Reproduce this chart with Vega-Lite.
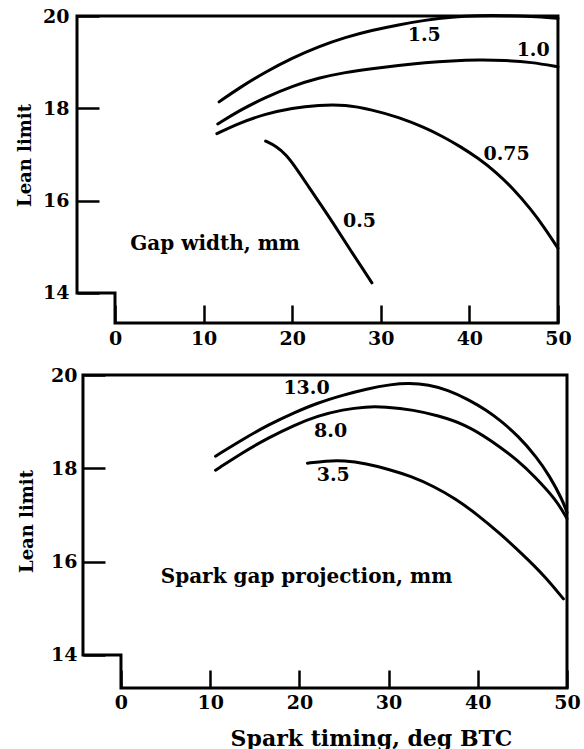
{
  "$schema": "https://vega.github.io/schema/vega-lite/v6.json",
  "background": "white",
  "padding": {"left": 16, "top": 7, "right": 5, "bottom": 0},
  "config": {"view": {"stroke": null}, "font": "DejaVu Serif"},
  "spacing": 52,
  "bounds": "flush",
  "vconcat": [
    {
      "width": 490,
      "height": 307,
      "encoding": {
        "x": {"field": "x", "type": "quantitative", "scale": {"domain": [-4.29, 51.02], "nice": false, "zero": false},
          "axis": {"values": [0, 10, 20, 30, 40, 50], "domain": false, "grid": false, "tickSize": -18, "tickWidth": 2.5, "tickColor": "black", "labelPadding": 24, "labelFlush": false, "labelOverlap": false, "labelFontSize": 19, "labelFont": "DejaVu Serif", "labelFontWeight": "bold", "labelColor": "black", "title": null}},
        "y": {"field": "y", "type": "quantitative", "scale": {"domain": [13.35, 20], "nice": false, "zero": false},
          "axis": {"values": [14, 16, 18, 20], "domain": false, "grid": false, "tickSize": -22, "tickWidth": 2.5, "tickColor": "black", "labelPadding": 30, "labelOverlap": false, "labelFontSize": 19, "labelFont": "DejaVu Serif", "labelFontWeight": "bold", "labelColor": "black", "title": "Lean limit", "titleFontSize": 18, "titleFont": "DejaVu Serif", "titleFontWeight": "bold", "titleColor": "black", "titleX": -52, "titleY": 139, "titleAngle": -90, "titleAlign": "center", "titleBaseline": "middle"}}
      },
      "layer": [
        {
          "data": {"values": [
            {"x": -4.29, "y": 20, "o": 1}, {"x": -4.29, "y": 14, "o": 2}, {"x": 0, "y": 14, "o": 3}, {"x": 0, "y": 13.35, "o": 4},
            {"x": 50, "y": 13.35, "o": 5}, {"x": 50, "y": 20, "o": 6}, {"x": -4.29, "y": 20, "o": 7}
          ]},
          "mark": {"type": "line", "color": "black", "strokeWidth": 3, "strokeCap": "square", "strokeJoin": "miter"},
          "encoding": {"order": {"field": "o", "type": "quantitative"}}
        },
        {
          "data": {"values": [
            {"gap": "1.5", "x": 11.75, "y": 18.14}, {"gap": "1.5", "x": 14, "y": 18.44}, {"gap": "1.5", "x": 17, "y": 18.79}, {"gap": "1.5", "x": 20, "y": 19.09}, {"gap": "1.5", "x": 23, "y": 19.34}, {"gap": "1.5", "x": 26, "y": 19.54}, {"gap": "1.5", "x": 29, "y": 19.69}, {"gap": "1.5", "x": 32, "y": 19.81}, {"gap": "1.5", "x": 35, "y": 19.91}, {"gap": "1.5", "x": 38, "y": 19.98}, {"gap": "1.5", "x": 41, "y": 20.01}, {"gap": "1.5", "x": 44, "y": 20.01}, {"gap": "1.5", "x": 47, "y": 19.99}, {"gap": "1.5", "x": 50, "y": 19.95},
            {"gap": "1.0", "x": 11.6, "y": 17.66}, {"gap": "1.0", "x": 14, "y": 17.95}, {"gap": "1.0", "x": 17, "y": 18.24}, {"gap": "1.0", "x": 20, "y": 18.48}, {"gap": "1.0", "x": 23, "y": 18.66}, {"gap": "1.0", "x": 26, "y": 18.78}, {"gap": "1.0", "x": 29, "y": 18.86}, {"gap": "1.0", "x": 32, "y": 18.93}, {"gap": "1.0", "x": 35, "y": 18.99}, {"gap": "1.0", "x": 38, "y": 19.03}, {"gap": "1.0", "x": 41, "y": 19.05}, {"gap": "1.0", "x": 44, "y": 19.04}, {"gap": "1.0", "x": 47, "y": 19.0}, {"gap": "1.0", "x": 50, "y": 18.9},
            {"gap": "0.75", "x": 11.5, "y": 17.45}, {"gap": "0.75", "x": 14, "y": 17.68}, {"gap": "0.75", "x": 17, "y": 17.88}, {"gap": "0.75", "x": 20, "y": 18.01}, {"gap": "0.75", "x": 23, "y": 18.07}, {"gap": "0.75", "x": 26, "y": 18.08}, {"gap": "0.75", "x": 29, "y": 17.97}, {"gap": "0.75", "x": 32, "y": 17.81}, {"gap": "0.75", "x": 35, "y": 17.58}, {"gap": "0.75", "x": 37, "y": 17.39}, {"gap": "0.75", "x": 39, "y": 17.17}, {"gap": "0.75", "x": 41, "y": 16.92}, {"gap": "0.75", "x": 43, "y": 16.62}, {"gap": "0.75", "x": 45, "y": 16.25}, {"gap": "0.75", "x": 47, "y": 15.8}, {"gap": "0.75", "x": 48.5, "y": 15.41}, {"gap": "0.75", "x": 50, "y": 14.97},
            {"gap": "0.5", "x": 17.0, "y": 17.29}, {"gap": "0.5", "x": 18.2, "y": 17.18}, {"gap": "0.5", "x": 19.3, "y": 17.0}, {"gap": "0.5", "x": 20.4, "y": 16.72}, {"gap": "0.5", "x": 21.9, "y": 16.29}, {"gap": "0.5", "x": 23.2, "y": 15.92}, {"gap": "0.5", "x": 24.5, "y": 15.55}, {"gap": "0.5", "x": 26.7, "y": 14.89}, {"gap": "0.5", "x": 29.0, "y": 14.22}
          ]},
          "mark": {"type": "line", "color": "black", "strokeWidth": 3, "strokeCap": "round", "interpolate": "basis"},
          "encoding": {"detail": {"field": "gap", "type": "nominal"}}
        },
        {
          "data": {"values": [
            {"t": "1.5", "x": 34.9, "y": 19.58}, {"t": "1.0", "x": 47.2, "y": 19.27}, {"t": "0.75", "x": 44.2, "y": 17.01}, {"t": "0.5", "x": 27.6, "y": 15.57}
          ]},
          "mark": {"type": "text", "fontSize": 19, "fontWeight": "bold", "font": "DejaVu Serif", "color": "black", "align": "center", "baseline": "middle"},
          "encoding": {"text": {"field": "t"}}
        },
        {
          "data": {"values": [{"t": "Gap width, mm", "x": 11.3, "y": 15.06}]},
          "mark": {"type": "text", "fontSize": 20, "fontWeight": "bold", "font": "DejaVu Serif", "color": "black", "align": "center", "baseline": "middle"},
          "encoding": {"text": {"field": "t"}}
        }
      ]
    },
    {
      "width": 490,
      "height": 313,
      "encoding": {
        "x": {"field": "x", "type": "quantitative", "scale": {"domain": [-4.93, 50], "nice": false, "zero": false},
          "axis": {"values": [0, 10, 20, 30, 40, 50], "domain": false, "grid": false, "tickSize": -18, "tickWidth": 2.5, "tickColor": "black", "labelPadding": 23, "labelFlush": false, "labelOverlap": false, "labelFontSize": 19, "labelFont": "DejaVu Serif", "labelFontWeight": "bold", "labelColor": "black", "title": "Spark timing, deg BTC", "titleFontSize": 22, "titleFont": "DejaVu Serif", "titleFontWeight": "bold", "titleColor": "black", "titleX": 294, "titleY": 50, "titleAlign": "center", "titleBaseline": "middle"}},
        "y": {"field": "y", "type": "quantitative", "scale": {"domain": [13.29, 20], "nice": false, "zero": false},
          "axis": {"values": [14, 16, 18, 20], "offset": -6, "domain": false, "grid": false, "tickSize": -22, "tickWidth": 2.5, "tickColor": "black", "labelPadding": 28, "labelOverlap": false, "labelFontSize": 19, "labelFont": "DejaVu Serif", "labelFontWeight": "bold", "labelColor": "black", "title": "Lean limit", "titleFontSize": 18, "titleFont": "DejaVu Serif", "titleFontWeight": "bold", "titleColor": "black", "titleX": -56, "titleY": 146, "titleAngle": -90, "titleAlign": "center", "titleBaseline": "middle"}}
      },
      "layer": [
        {
          "data": {"values": [
            {"x": -4.26, "y": 20, "o": 1}, {"x": -4.26, "y": 14, "o": 2}, {"x": 0, "y": 14, "o": 3}, {"x": 0, "y": 13.29, "o": 4},
            {"x": 50, "y": 13.29, "o": 5}, {"x": 50, "y": 20, "o": 6}, {"x": -4.26, "y": 20, "o": 7}
          ]},
          "mark": {"type": "line", "color": "black", "strokeWidth": 3, "strokeCap": "square", "strokeJoin": "miter"},
          "encoding": {"order": {"field": "o", "type": "quantitative"}}
        },
        {
          "data": {"values": [
            {"proj": "13.0", "x": 10.6, "y": 18.26}, {"proj": "13.0", "x": 14, "y": 18.66}, {"proj": "13.0", "x": 16.5, "y": 18.93}, {"proj": "13.0", "x": 19.5, "y": 19.2}, {"proj": "13.0", "x": 22, "y": 19.4}, {"proj": "13.0", "x": 24.9, "y": 19.57}, {"proj": "13.0", "x": 27.5, "y": 19.7}, {"proj": "13.0", "x": 30.3, "y": 19.8}, {"proj": "13.0", "x": 32.3, "y": 19.83}, {"proj": "13.0", "x": 34.5, "y": 19.79}, {"proj": "13.0", "x": 36.6, "y": 19.68}, {"proj": "13.0", "x": 39, "y": 19.47}, {"proj": "13.0", "x": 41, "y": 19.24}, {"proj": "13.0", "x": 42.5, "y": 19.03}, {"proj": "13.0", "x": 44.5, "y": 18.7}, {"proj": "13.0", "x": 46.6, "y": 18.24}, {"proj": "13.0", "x": 48, "y": 17.85}, {"proj": "13.0", "x": 49.5, "y": 17.32}, {"proj": "13.0", "x": 50, "y": 17.05},
            {"proj": "8.0", "x": 10.6, "y": 17.96}, {"proj": "8.0", "x": 14, "y": 18.38}, {"proj": "8.0", "x": 16.5, "y": 18.65}, {"proj": "8.0", "x": 19.5, "y": 18.93}, {"proj": "8.0", "x": 22, "y": 19.12}, {"proj": "8.0", "x": 24.9, "y": 19.26}, {"proj": "8.0", "x": 27.5, "y": 19.32}, {"proj": "8.0", "x": 29.5, "y": 19.32}, {"proj": "8.0", "x": 32.9, "y": 19.25}, {"proj": "8.0", "x": 35.5, "y": 19.13}, {"proj": "8.0", "x": 38.5, "y": 18.95}, {"proj": "8.0", "x": 41.5, "y": 18.6}, {"proj": "8.0", "x": 44.5, "y": 18.17}, {"proj": "8.0", "x": 46.5, "y": 17.8}, {"proj": "8.0", "x": 48.8, "y": 17.32}, {"proj": "8.0", "x": 50, "y": 16.92},
            {"proj": "3.5", "x": 20.9, "y": 18.11}, {"proj": "3.5", "x": 23, "y": 18.16}, {"proj": "3.5", "x": 25, "y": 18.17}, {"proj": "3.5", "x": 27.5, "y": 18.1}, {"proj": "3.5", "x": 30, "y": 17.98}, {"proj": "3.5", "x": 32.5, "y": 17.83}, {"proj": "3.5", "x": 35, "y": 17.62}, {"proj": "3.5", "x": 37.5, "y": 17.35}, {"proj": "3.5", "x": 40, "y": 17.0}, {"proj": "3.5", "x": 42.5, "y": 16.6}, {"proj": "3.5", "x": 45, "y": 16.16}, {"proj": "3.5", "x": 47.5, "y": 15.69}, {"proj": "3.5", "x": 49.6, "y": 15.2}
          ]},
          "mark": {"type": "line", "color": "black", "strokeWidth": 3, "strokeCap": "round", "interpolate": "basis"},
          "encoding": {"detail": {"field": "proj", "type": "nominal"}}
        },
        {
          "data": {"values": [
            {"t": "13.0", "x": 20.8, "y": 19.72}, {"t": "8.0", "x": 23.5, "y": 18.8}, {"t": "3.5", "x": 23.8, "y": 17.85}
          ]},
          "mark": {"type": "text", "fontSize": 19, "fontWeight": "bold", "font": "DejaVu Serif", "color": "black", "align": "center", "baseline": "middle"},
          "encoding": {"text": {"field": "t"}}
        },
        {
          "data": {"values": [{"t": "Spark gap projection, mm", "x": 20.8, "y": 15.66}]},
          "mark": {"type": "text", "fontSize": 20, "fontWeight": "bold", "font": "DejaVu Serif", "color": "black", "align": "center", "baseline": "middle"},
          "encoding": {"text": {"field": "t"}}
        }
      ]
    }
  ]
}
